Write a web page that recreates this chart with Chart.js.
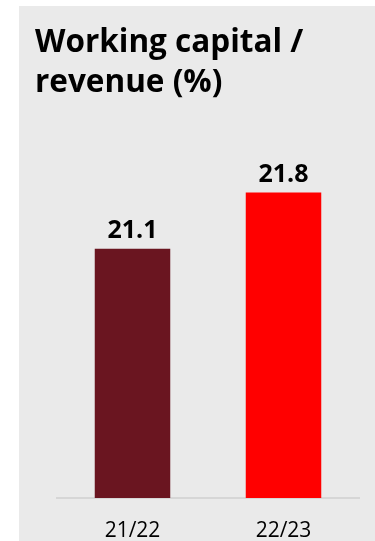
<!DOCTYPE html>
<html>
<head>
<meta charset="utf-8">
<script src="https://cdn.jsdelivr.net/npm/chart.js@4/dist/chart.umd.min.js"></script>
<style>
  html, body { margin: 0; padding: 0; background: #fff; }
  #panel {
    position: absolute;
    left: 19px;
    top: 6px;
    width: 356px;
    height: 535px;
    background: #eaeaea;
  }
</style>
</head>
<body>
<div id="panel"><canvas id="wcChart"></canvas></div>
<script>
const years = ['21/22', '22/23'];
const ratio = [21.1, 21.8];
const barColors = ['#6a1520', '#ff0000'];
const titleLines = ['Working capital /', 'revenue (%)'];

// write the value above each bar
const valueLabels = {
    id: 'valueLabels',
    afterDatasetsDraw(chart) {
        const ctx = chart.ctx;
        const meta = chart.getDatasetMeta(0);
        ctx.save();
        ctx.font = 'bold 25px "Open Sans"';
        ctx.fillStyle = '#000';
        ctx.textAlign = 'center';
        ctx.textBaseline = 'alphabetic';
        meta.data.forEach((bar, i) => {
            ctx.fillText(ratio[i].toFixed(1), bar.x, bar.y - 11);
        });
        ctx.restore();
    }
};

var ctx = document.getElementById('wcChart').getContext('2d');
new Chart(ctx, {
    type: 'bar',
    data: {
        labels: years,
        datasets: [{
            data: ratio,
            backgroundColor: barColors,
            borderWidth: 0,
            categoryPercentage: 1,
            barPercentage: 0.5
        }]
    },
    options: {
        responsive: true,
        maintainAspectRatio: false,
        animation: false,
        layout: { padding: { left: 16, right: 16, top: 0, bottom: 0 } },
        plugins: {
            legend: { display: false },
            tooltip: { enabled: false },
            title: {
                display: true,
                text: titleLines,
                align: 'start',
                color: '#000',
                font: { family: 'Open Sans', size: 31.5, weight: 'bold', lineHeight: 1.24 },
                padding: { top: 18, bottom: 10 }
            }
        },
        scales: {
            x: {
                grid: { display: false, drawTicks: false },
                border: { display: true, color: '#d6d6d6', width: 2 },
                ticks: {
                    color: '#000',
                    padding: 20,
                    font: { family: 'Open Sans', size: 21 }
                },
                afterFit(scale) { scale.height = 43; }
            },
            y: {
                min: 18,
                max: 22.8,
                grid: { display: false },
                border: { display: false },
                ticks: { display: false },
                afterFit(scale) { scale.width = 22; }
            }
        }
    },
    plugins: [valueLabels]
});
</script>
</body>
</html>
